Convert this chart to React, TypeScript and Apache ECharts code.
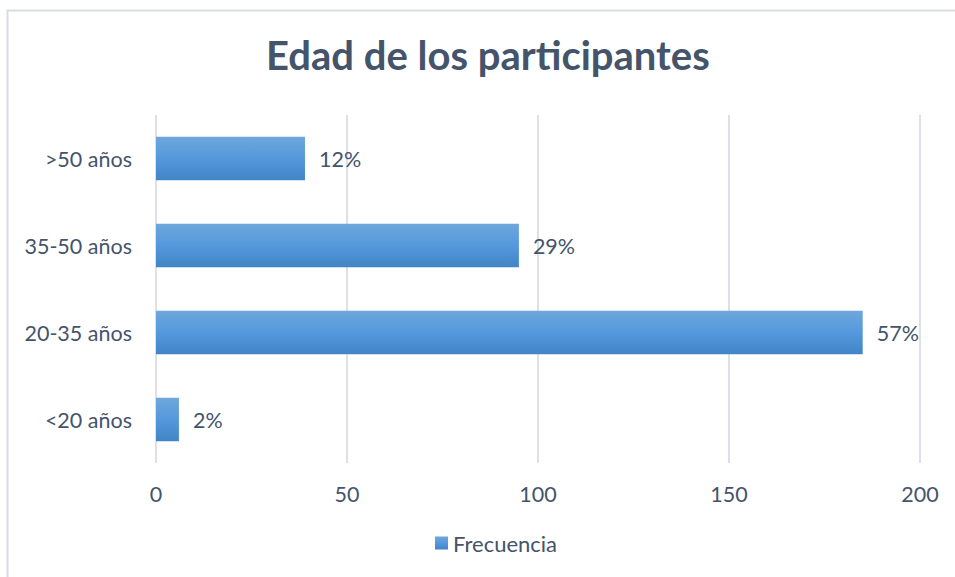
import React, { useEffect, useRef } from "react";
import * as echarts from "echarts";

const categories = ["<20 años", "20-35 años", "35-50 años", ">50 años"];
const frecuencia = [6, 185, 95, 39];
const percentLabels = ["2%", "57%", "29%", "12%"];
const xTicks = [0, 50, 100, 150, 200];

const FONT = "Lato, 'Open Sans', sans-serif";
const TEXT = "#44546a";

export default function App() {
  const ref = useRef<HTMLDivElement>(null);
  useEffect(() => {
    const chart = echarts.init(ref.current!, null, { renderer: "svg" });
    chart.setOption({
      animation: false,
      backgroundColor: "#ffffff",
      graphic: [
        {
          type: "rect",
          shape: { x: 7.5, y: 10.5, width: 1200, height: 1200 },
          style: { fill: "none", stroke: "#d9dde3", lineWidth: 2 },
          silent: true,
        },
      ],
      title: {
        text: "Edad de los participantes",
        left: 261,
        top: 30,
        textStyle: { fontFamily: FONT, fontSize: 40, fontWeight: "bold", color: TEXT },
      },
      legend: {
        bottom: 18,
        left: 430,
        itemWidth: 13,
        itemHeight: 13,
        itemGap: 6,
        icon: "rect",
        textStyle: { fontFamily: FONT, fontSize: 22, color: TEXT },
        data: ["Frecuencia"],
      },
      grid: { left: 156, right: 35, top: 115, bottom: 114 },
      xAxis: {
        type: "value",
        min: xTicks[0],
        max: xTicks[xTicks.length - 1],
        interval: 50,
        axisLine: { show: false },
        axisTick: { show: false },
        axisLabel: { fontFamily: FONT, fontSize: 21.5, color: TEXT, margin: 20 },
        splitLine: { lineStyle: { color: "#dde1e7", width: 2 } },
      },
      yAxis: {
        type: "category",
        data: categories,
        axisLine: { show: false },
        axisTick: { show: false },
        axisLabel: { fontFamily: FONT, fontSize: 21.5, color: TEXT, margin: 24 },
      },
      series: [
        {
          name: "Frecuencia",
          type: "bar",
          data: frecuencia,
          barWidth: "50%",
          itemStyle: {
            color: new echarts.graphic.LinearGradient(0, 0, 0, 1, [
              { offset: 0, color: "#6ea7dc" },
              { offset: 0.5, color: "#5499dc" },
              { offset: 1, color: "#4284c6" },
            ]),
          },
          label: {
            show: true,
            position: "right",
            distance: 14,
            fontFamily: FONT,
            fontSize: 21.5,
            color: TEXT,
            formatter: (p: any) => percentLabels[p.dataIndex],
          },
        },
      ],
    });
    return () => chart.dispose();
  }, []);
  return (
    <div
      ref={ref}
      style={{ position: "absolute", left: 0, top: 0, width: 955, height: 577 }}
    />
  );
}
